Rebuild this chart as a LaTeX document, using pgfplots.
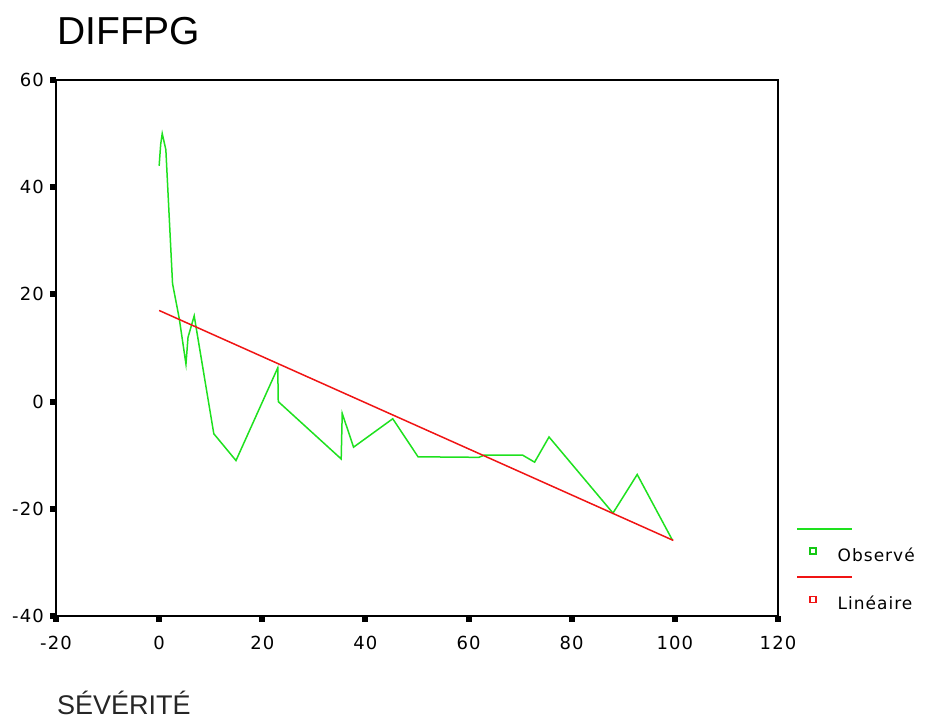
\documentclass[border=0pt]{standalone}
\usepackage{fontspec}
\setmainfont{Liberation Sans}
\newfontfamily\tickfont[LetterSpace=6]{DejaVu Sans}
\usepackage{pgfplots}
\pgfplotsset{compat=1.18}
\definecolor{obsgreen}{RGB}{30,225,30}
\definecolor{obsmark}{RGB}{20,200,20}
\definecolor{linred}{RGB}{240,20,20}
\pgfplotsset{
  mylegimg/.style 2 args={legend image code/.code={
    \draw[overlay, #1, line width=1.5pt] (-16pt,26pt) -- (39pt,26pt);
    \draw[#2, line width=1.2pt, fill=white] (-3pt,1pt) rectangle (3pt,7pt);
  }},
}
\begin{document}
\begin{tikzpicture}[x=1pt,y=1pt]
\path[use as bounding box] (0,0) rectangle (935,720);
\begin{axis}[
  at={(56pt,104pt)}, anchor=south west, scale only axis,
  width=722pt, height=536pt,
  xmin=-20, xmax=120, ymin=-40, ymax=60,
  xtick={-20,0,20,40,60,80,100,120},
  xticklabels={-20,0,20,40,60,80,100,120},
  ytick={-40,-20,0,20,40,60},
  yticklabels={-40,-20,0,20,40,60},
  tick pos=left, tick align=outside,
  major tick length=6pt,
  major tick style={black, line width=6pt},
  axis line style={black, line width=1.4pt},
  ticklabel style={font=\tickfont\fontsize{18}{21}\selectfont, inner sep=0pt},
  xticklabel style={anchor=north, yshift=-14pt},
  yticklabel style={anchor=east, xshift=-6pt},
  legend cell align=left,
  legend style={draw=none, fill=none, inner sep=0pt, outer sep=0pt,
    row sep=33pt, column sep=21pt,
    nodes={inner sep=0pt, font=\tickfont\fontsize{17}{20}\selectfont},
    at={(rel axis cs:1.0436,0.128)}, anchor=north west},
]
\addplot[obsgreen, line width=1.5pt, mylegimg={obsgreen}{obsmark}] coordinates {
(0,44) (0.3,48) (0.6,50) (1.3,47) (2.6,22) (3.9,15.5) (5.2,7) (5.6,12)
(6.8,16) (7.4,12.5) (10.6,-6) (14.9,-11) (23,6.3) (23.1,0) (35.3,-10.7)
(35.5,-2.2) (37.7,-8.5) (45.3,-3.2) (50.2,-10.3) (62,-10.4) (63,-10)
(70.5,-10) (72.8,-11.3) (75.6,-6.6) (88,-20.8) (92.7,-13.6) (99.5,-25.8)
};
\addlegendentry{Observé}
\addplot[linred, line width=1.5pt, mylegimg={linred}{linred}] coordinates {(0,17) (99.7,-25.9)};
\addlegendentry{Linéaire}
\end{axis}
\node[anchor=base west, inner sep=0pt, font=\fontsize{39}{42}\selectfont] at (57,675) {DIFFPG};
\node[anchor=base west, inner sep=0pt, text=black!85, font=\fontsize{27}{30}\selectfont] at (57,5) {SÉVÉRITÉ};
\end{tikzpicture}
\end{document}
